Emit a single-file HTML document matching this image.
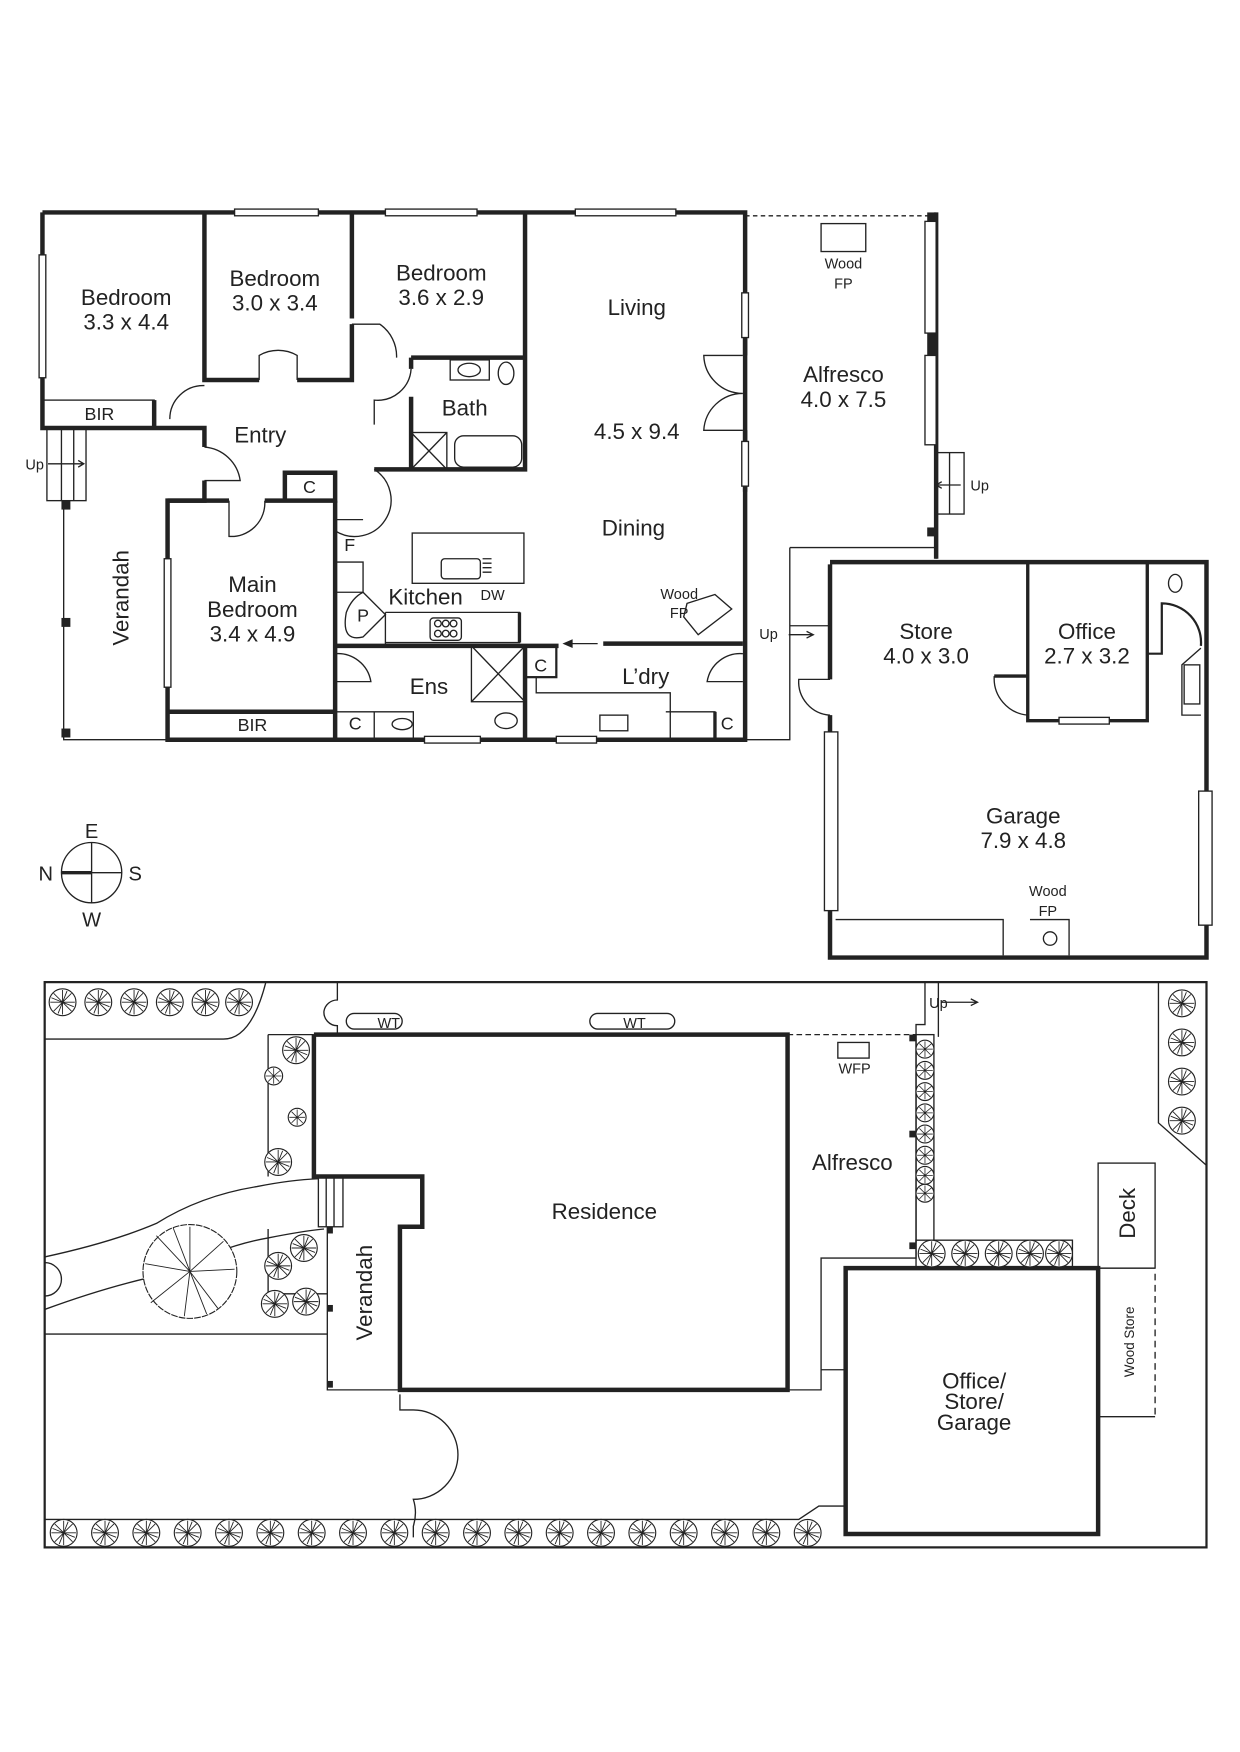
<!DOCTYPE html>
<html><head><meta charset="utf-8"><style>
html,body{margin:0;padding:0;background:#fff;width:1240px;height:1752px;overflow:hidden}
svg{display:block}
text{font-family:"Liberation Sans",sans-serif;fill:#222}
</style></head><body>
<svg width="1240" height="1752" viewBox="0 0 1110 1568" xmlns="http://www.w3.org/2000/svg">
<defs>
<g id="tr"><circle r="12" fill="#fff" stroke="#222" stroke-width="1"/><path d="M0 0L0-11M0 0L8-8M0 0L11 0M0 0L8 8M0 0L0 11M0 0L-8 8M0 0L-11 0M0 0L-8-8M0 0L4-10M0 0L10 4M0 0L-4 10M0 0L-10-4" stroke="#222" stroke-width="0.8"/></g>
<g id="ts"><circle r="8" fill="#fff" stroke="#222" stroke-width="1"/><path d="M0 0L0-7M0 0L6-5M0 0L7 0M0 0L5 5M0 0L0 7M0 0L-5 5M0 0L-7 0M0 0L-5-5" stroke="#222" stroke-width="0.7"/></g>
</defs>
<g fill="none" stroke="#222">
<g stroke-width="4">
<path d="M38 190H667V662H150V448H183V430"/>
<path d="M183 400V383H38V190"/>
<path d="M183 190V340H232M266 340H315V290"/>
<path d="M315 190V285"/>
<path d="M470 190V420H335"/>
<path d="M368 320H470M368 320V330M368 355V420"/>
<path d="M150 637H300M300 448V662M300 578H500M540 576H665M470 578V662"/>
<path d="M255 448H300V423H255V448M150 448H205M237 448H255"/>
<path d="M138 358V383"/>
<path d="M667 262V318M667 385V440"/>
</g>
<g stroke-width="1.2">
<rect x="38" y="358" width="100" height="25"/>
<rect x="210" y="187" width="75" height="6" fill="#fff"/>
<rect x="345" y="187" width="82" height="6" fill="#fff"/>
<rect x="515" y="187" width="90" height="6" fill="#fff"/>
<rect x="35" y="228" width="6" height="110" fill="#fff"/>
<rect x="147" y="500" width="6" height="115" fill="#fff"/>
<rect x="664" y="262" width="6" height="40" fill="#fff"/>
<rect x="664" y="395" width="6" height="40" fill="#fff"/>
<rect x="380" y="659" width="50" height="6" fill="#fff"/>
<rect x="498" y="659" width="36" height="6" fill="#fff"/>
<path d="M232 340V318A34 34 0 0 1 266 318V340"/>
<path d="M315 290H340A35 35 0 0 1 355 320"/>
<path d="M183 400A35 35 0 0 1 215 430H183"/>
<path d="M152 375A30 30 0 0 1 183 345"/>
<path d="M368 330A30 30 0 0 1 335 358V380"/>
<path d="M300 453V475A30 30 0 0 0 335 420"/>
<path d="M205 448V480A30 30 0 0 0 237 448"/>
<path d="M300 585A30 30 0 0 1 332 610H300"/>
<path d="M665 585A30 30 0 0 0 633 610H665"/>
<path d="M665 318H630A35 35 0 0 0 665 352A35 35 0 0 0 630 385H665"/>
<path d="M300 465H325"/>
<rect x="369" y="477" width="100" height="45"/>
<rect x="395" y="500" width="35" height="18" rx="3"/>
<path d="M432 500H440M432 504H440M432 508H440M432 512H440"/>
<path d="M300 503H325V530H300"/>
<path d="M345 548H465V575H345"/>
<path d="M465 548V575" stroke-width="3"/>
<rect x="385" y="553" width="28" height="20" rx="3"/>
<circle cx="392" cy="558" r="3"/><circle cx="399" cy="558" r="3"/><circle cx="406" cy="558" r="3"/>
<circle cx="392" cy="567" r="3"/><circle cx="399" cy="567" r="3"/><circle cx="406" cy="567" r="3"/>
<path d="M325 530L345 550L325 570Q305 575 310 548Q315 535 325 530"/>
<path d="M345 548V578"/>
<rect x="422" y="578" width="48" height="50"/><path d="M422 578L470 628M470 578L422 628"/>
<path d="M300 637H335V662M335 637H370V662"/>
<ellipse cx="360" cy="648" rx="9" ry="5"/>
<ellipse cx="453" cy="645" rx="10" ry="7"/>
<rect x="470" y="578" width="28" height="28" stroke-width="2"/>
<path d="M480 606V620H600V662M596 637H640V662"/>
<rect x="537" y="640" width="25" height="14"/>
<path d="M640 637V662" stroke-width="3"/>
<path d="M535 576H508"/><path d="M512 573L505 576L512 579Z" fill="#222"/>
<path d="M615 540L640 532L655 545L625 568L612 552Z"/>
<rect x="403" y="322" width="35" height="18"/><ellipse cx="420" cy="331" rx="10" ry="6"/>
<ellipse cx="453" cy="334" rx="7" ry="10"/>
<rect x="368" y="387" width="32" height="33"/><path d="M368 387L400 420M400 387L368 420"/>
<rect x="407" y="390" width="60" height="28" rx="8"/>
<path d="M57 448V662H150"/>
<rect x="42" y="383" width="35" height="65"/><path d="M55 383V448M66 383V448"/>
<path d="M43 415H75M70 412L75 415L70 418"/>
<path d="M667 193H838" stroke-dasharray="4 3"/>
<path d="M838 190V500" stroke-width="4"/>
<rect x="828" y="198" width="10" height="100" fill="#fff"/>
<rect x="828" y="318" width="10" height="80" fill="#fff"/>
<rect x="838" y="405" width="25" height="55"/><path d="M850 405V460M840 434H860M843 431L838 434L843 437"/>
<rect x="735" y="200" width="40" height="25"/>
<path d="M707 490H838V500M707 490V662H667M707 560H743"/>
<path d="M743 503H1080V857H743V640M743 608V505" stroke-width="4"/>
<path d="M920 503V605H890M920 605V645H1027V503M1027 503V530" stroke-width="3"/>
<path d="M1027 503V585H1040V540A35 35 0 0 1 1075 578" stroke-width="2"/>
<path d="M743 608H715A30 30 0 0 0 743 640"/>
<path d="M890 605A33 33 0 0 0 920 640"/>
<rect x="738" y="655" width="12" height="160" fill="#fff"/>
<rect x="1073" y="708" width="12" height="120" fill="#fff"/>
<rect x="948" y="642" width="45" height="6" fill="#fff"/>
<path d="M748 823H898V855M922 823H957V855"/>
<circle cx="940" cy="840" r="6"/>
<ellipse cx="1052" cy="522" rx="6" ry="8"/>
<path d="M1075 580L1058 595V640H1075"/>
<rect x="1060" y="595" width="14" height="35"/>
<path d="M706 568H728M722 565L728 568L722 571"/>
<circle cx="82" cy="781" r="27"/><path d="M82 754V808M82 781H109"/>
<path d="M55 781H82" stroke-width="3"/>
<!-- SITE -->
<rect x="40" y="879" width="1040" height="506" stroke-width="2"/>
<path d="M40 930H200Q225 930 238 879"/>
<path d="M302 879V895A12 12 0 0 0 290 905A12 12 0 0 0 302 918V926"/>
<rect x="310" y="907" width="50" height="14" rx="7"/>
<rect x="528" y="907" width="76" height="14" rx="7"/>
<path d="M281 926H705V1244H358V1098H378V1053H281V926" stroke-width="4"/>
<path d="M293 1098V1244H358" />
<path d="M240 926H281M240 926V1053M240 1100V1158H293"/>
<path d="M40 1125Q100 1112 140 1095Q180 1070 230 1062Q260 1056 285 1055"/>
<path d="M40 1172Q100 1150 150 1140Q200 1115 240 1108Q270 1102 290 1100"/>
<path d="M40 1194H293"/>
<rect x="285" y="1053" width="22" height="45"/><path d="M292 1053V1098M299 1053V1098"/>
<path d="M40 1130A15 15 0 0 1 40 1160"/>
<path d="M358 1248V1262H370A40 40 0 0 1 370 1342A40 40 0 0 1 370 1366V1376"/>
<path d="M705 926H820" stroke-dasharray="5 3"/>
<rect x="750" y="933" width="28" height="14"/>
<path d="M705 1244H735V1126H820V926"/>
<rect x="820" y="926" width="16" height="145"/><path d="M820 1071V1112M836 1071V1112"/>
<path d="M828 879V917H820V926M840 879V928M843 897H875M869 894L875 897L869 900"/>
<rect x="820" y="1110" width="140" height="25"/>
<path d="M757 1135H983V1373H757Z" stroke-width="4"/>
<path d="M735 1226H757M757 1348H733L715 1360H40"/>
<rect x="983" y="1041" width="51" height="94"/>
<path d="M983 1135H1034M983 1268H1034"/>
<path d="M1034 1140V1268" stroke-dasharray="6 4"/>
<path d="M1037 879V1005L1080 1043"/>
</g>
<g fill="#222" stroke="none">
<rect x="55" y="448" width="8" height="8"/><rect x="55" y="553" width="8" height="8"/><rect x="55" y="652" width="8" height="8"/>
<rect x="830" y="190" width="8" height="8"/><rect x="830" y="298" width="8" height="20"/><rect x="830" y="472" width="8" height="8"/>
<rect x="293" y="1098" width="5" height="6"/><rect x="293" y="1168" width="5" height="6"/><rect x="293" y="1236" width="5" height="6"/>
<rect x="814" y="926" width="6" height="6"/><rect x="814" y="1012" width="6" height="6"/><rect x="814" y="1112" width="6" height="6"/>
</g>
</g>
<g>
<use href="#tr" x="56" y="897"/><use href="#tr" x="88" y="897"/><use href="#tr" x="120" y="897"/><use href="#tr" x="152" y="897"/><use href="#tr" x="184" y="897"/><use href="#tr" x="214" y="897"/>
<use href="#tr" x="265" y="940"/><use href="#ts" x="245" y="963"/><use href="#ts" x="266" y="1000"/><use href="#tr" x="249" y="1040"/>
<use href="#tr" x="272" y="1117"/><use href="#tr" x="249" y="1133"/><use href="#tr" x="246" y="1167"/><use href="#tr" x="274" y="1165"/>
<use href="#ts" x="828" y="939"/><use href="#ts" x="828" y="958"/><use href="#ts" x="828" y="977"/><use href="#ts" x="828" y="996"/><use href="#ts" x="828" y="1015"/><use href="#ts" x="828" y="1034"/><use href="#ts" x="828" y="1052"/><use href="#ts" x="828" y="1068"/>
<use href="#tr" x="834" y="1122"/><use href="#tr" x="864" y="1122"/><use href="#tr" x="894" y="1122"/><use href="#tr" x="922" y="1122"/><use href="#tr" x="948" y="1122"/>
<use href="#tr" x="1058" y="898"/><use href="#tr" x="1058" y="933"/><use href="#tr" x="1058" y="968"/><use href="#tr" x="1058" y="1003"/>
<use href="#tr" x="57" y="1372"/><use href="#tr" x="94" y="1372"/><use href="#tr" x="131" y="1372"/><use href="#tr" x="168" y="1372"/><use href="#tr" x="205" y="1372"/><use href="#tr" x="242" y="1372"/><use href="#tr" x="279" y="1372"/><use href="#tr" x="316" y="1372"/><use href="#tr" x="353" y="1372"/><use href="#tr" x="390" y="1372"/><use href="#tr" x="427" y="1372"/><use href="#tr" x="464" y="1372"/><use href="#tr" x="501" y="1372"/><use href="#tr" x="538" y="1372"/><use href="#tr" x="575" y="1372"/><use href="#tr" x="612" y="1372"/><use href="#tr" x="649" y="1372"/><use href="#tr" x="686" y="1372"/><use href="#tr" x="723" y="1372"/>
<circle cx="170" cy="1138" r="42" fill="#fff" stroke="#222" stroke-width="1" stroke-dasharray="6 1"/>
<path d="M170 1138L170 1098M170 1138L200 1111M170 1138L210 1136M170 1138L195 1171M170 1138L165 1178M170 1138L135 1166M170 1138L130 1131M170 1138L140 1106M170 1138L155 1099M170 1138L185 1176" stroke="#222" stroke-width="0.8"/>
</g>
<g text-anchor="middle" font-size="20">
<text x="113" y="273">Bedroom</text><text x="113" y="295">3.3 x 4.4</text>
<text x="246" y="256">Bedroom</text><text x="246" y="278">3.0 x 3.4</text>
<text x="395" y="251">Bedroom</text><text x="395" y="273">3.6 x 2.9</text>
<text x="570" y="282">Living</text>
<text x="570" y="393">4.5 x 9.4</text>
<text x="567" y="479">Dining</text>
<text x="233" y="396">Entry</text>
<text x="416" y="372">Bath</text>
<text x="226" y="530">Main</text><text x="226" y="552">Bedroom</text><text x="226" y="574">3.4 x 4.9</text>
<text x="381" y="541">Kitchen</text>
<text x="384" y="621">Ens</text>
<text x="578" y="612">L’dry</text>
<text x="755" y="342">Alfresco</text><text x="755" y="364">4.0 x 7.5</text>
<text x="829" y="572">Store</text><text x="829" y="594">4.0  x 3.0</text>
<text x="973" y="572">Office</text><text x="973" y="594">2.7 x 3.2</text>
<text x="916" y="737">Garage</text><text x="916" y="759">7.9 x 4.8</text>
<text x="541" y="1091">Residence</text>
<text x="763" y="1047">Alfresco</text>
<text x="872" y="1243">Office/</text><text x="872" y="1261">Store/</text><text x="872" y="1280">Garage</text>
<text transform="translate(115 535) rotate(-90)">Verandah</text>
<text transform="translate(333 1157) rotate(-90)">Verandah</text>
<text transform="translate(1016 1086) rotate(-90)">Deck</text>
</g>
<g text-anchor="middle" font-size="16">
<text x="89" y="376">BIR</text><text x="226" y="654">BIR</text>
<text x="277" y="441">C</text><text x="318" y="653">C</text><text x="484" y="601">C</text><text x="651" y="653">C</text>
<text x="313" y="493">F</text><text x="325" y="556">P</text>
<text x="41" y="788" font-size="18">N</text><text x="121" y="788" font-size="18">S</text><text x="82" y="750" font-size="18">E</text><text x="82" y="829" font-size="18">W</text>
</g>
<g text-anchor="middle" font-size="13">
<text x="755" y="240">Wood</text><text x="755" y="258">FP</text>
<text x="608" y="536">Wood</text><text x="608" y="553">FP</text>
<text x="938" y="802">Wood</text><text x="938" y="820">FP</text>
<text x="441" y="537">DW</text>
<text x="31" y="420">Up</text><text x="877" y="439">Up</text><text x="688" y="572">Up</text><text x="840" y="902">Up</text>
<text x="348" y="920">WT</text><text x="568" y="920">WT</text>
<text x="765" y="961">WFP</text>
<text transform="translate(1015 1201) rotate(-90)" font-size="12">Wood Store</text>
</g>
</svg>
</body></html>
